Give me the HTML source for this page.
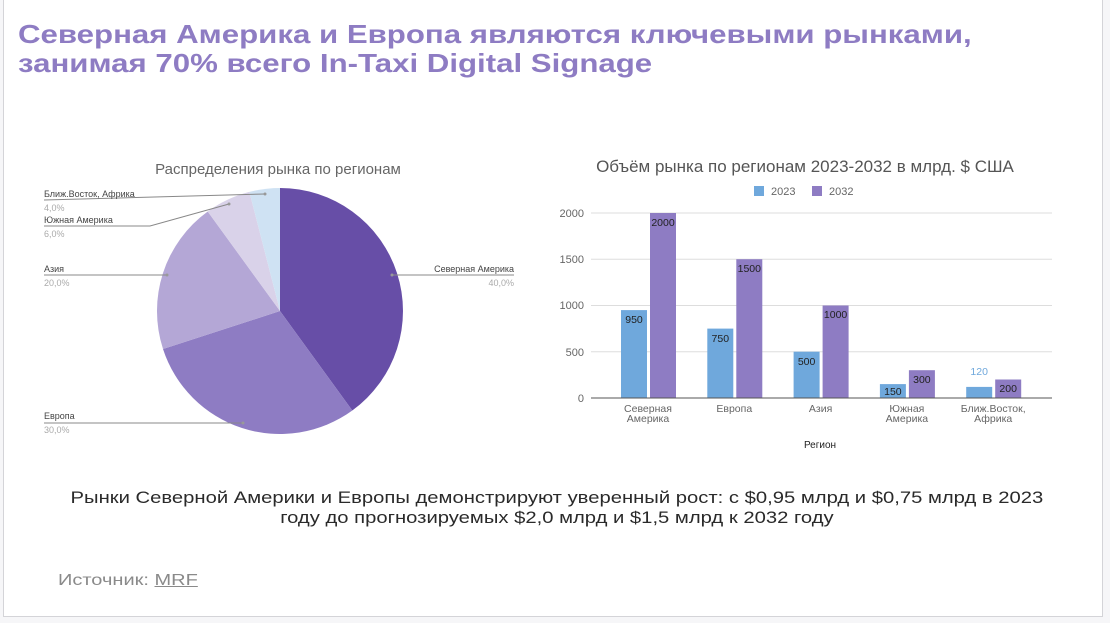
<!DOCTYPE html>
<html><head><meta charset="utf-8"><style>
html,body{margin:0;padding:0;background:#f6f6f8;}
body{width:1110px;height:623px;overflow:hidden;position:relative;font-family:"Liberation Sans","DejaVu Sans",sans-serif;}
.card{position:absolute;left:3px;top:0;width:1098px;height:616px;background:#fff;border:1px solid #d4d4d8;border-top:none;}
.t{position:absolute;left:18px;top:20px;font-size:26px;font-weight:bold;color:#8e7cc3;line-height:29px;transform:scaleX(1.2);transform-origin:0 0;white-space:nowrap;}
.d{position:absolute;left:0;width:1110px;top:488px;text-align:center;font-size:17px;line-height:20px;color:#2a2a2a;transform:scaleX(1.19);transform-origin:545px 0;}
.s{position:absolute;left:58px;top:572px;font-size:16px;color:#8a8a8a;transform:scaleX(1.25);transform-origin:0 0;}
.s u{color:#8a8a8a;}
</style></head><body>
<div class="card"></div>
<div class="t">Северная Америка и Европа являются ключевыми рынками,<br>занимая 70% всего In-Taxi Digital Signage</div>
<svg width="1110" height="623" style="position:absolute;left:0;top:0" font-family="Liberation Sans, DejaVu Sans, sans-serif">
<text x="278" y="174" font-size="15" fill="#666" text-anchor="middle">Распределения рынка по регионам</text>
<path d="M280,311 L280,188 A123,123 0 0 1 352.3,410.5 Z" fill="#674ea7"/>
<path d="M280,311 L352.3,410.5 A123,123 0 0 1 163,349 Z" fill="#8e7cc3"/>
<path d="M280,311 L163,349 A123,123 0 0 1 207.7,211.5 Z" fill="#b4a7d6"/>
<path d="M280,311 L207.7,211.5 A123,123 0 0 1 249.4,191.9 Z" fill="#d9d2e9"/>
<path d="M280,311 L249.4,191.9 A123,123 0 0 1 280,188 Z" fill="#cfe2f3"/>
<g stroke="#888" stroke-width="1" fill="none">
<polyline points="392,275 514,275"/><polyline points="44,275 167,275"/>
<polyline points="44,423 243,423"/><polyline points="44,200 265,194"/>
<polyline points="44,226 150,226 229,204"/></g>
<g fill="#999"><circle cx="392" cy="275" r="1.5"/><circle cx="167" cy="275" r="1.5"/><circle cx="243" cy="423" r="1.5"/><circle cx="265" cy="194" r="1.5"/><circle cx="229" cy="204" r="1.5"/></g>
<g font-size="9" fill="#444">
<text x="514" y="272" text-anchor="end">Северная Америка</text>
<text x="44" y="272">Азия</text><text x="44" y="419">Европа</text>
<text x="44" y="197">Ближ.Восток, Африка</text><text x="44" y="223">Южная Америка</text></g>
<g font-size="9" fill="#aaa">
<text x="514" y="286" text-anchor="end">40,0%</text><text x="44" y="286">20,0%</text>
<text x="44" y="433">30,0%</text><text x="44" y="211">4,0%</text><text x="44" y="237">6,0%</text></g>

<text x="805" y="172" font-size="17" fill="#555" text-anchor="middle">Объём рынка по регионам 2023-2032 в млрд. $ США</text>
<rect x="754" y="186" width="10" height="10" fill="#6fa8dc"/><text x="771" y="195" font-size="11" fill="#666">2023</text>
<rect x="812" y="186" width="10" height="10" fill="#8e7cc3"/><text x="829" y="195" font-size="11" fill="#666">2032</text>
<g stroke="#ddd"><line x1="591" y1="213" x2="1052" y2="213"/><line x1="591" y1="259.3" x2="1052" y2="259.3"/><line x1="591" y1="305.5" x2="1052" y2="305.5"/><line x1="591" y1="351.8" x2="1052" y2="351.8"/></g>
<g font-size="11" fill="#666" text-anchor="end"><text x="584" y="217">2000</text><text x="584" y="263">1500</text><text x="584" y="309">1000</text><text x="584" y="356">500</text><text x="584" y="402">0</text></g>
<g fill="#6fa8dc">
<rect x="621" y="310.1" width="26" height="87.9"/><rect x="707.3" y="328.6" width="26" height="69.4"/><rect x="793.6" y="351.7" width="26" height="46.3"/><rect x="879.9" y="384.1" width="26" height="13.9"/><rect x="966.2" y="386.9" width="26" height="11.1"/></g>
<g fill="#8e7cc3">
<rect x="650" y="213" width="26" height="185"/><rect x="736.3" y="259.2" width="26" height="138.8"/><rect x="822.6" y="305.5" width="26" height="92.5"/><rect x="908.9" y="370.2" width="26" height="27.8"/><rect x="995.2" y="379.5" width="26" height="18.5"/></g>
<line x1="591" y1="398" x2="1052" y2="398" stroke="#555"/>
<g font-size="10.5" fill="#222" text-anchor="middle">
<text x="634" y="323">950</text><text x="720.3" y="342">750</text><text x="806.6" y="365">500</text><text x="892.9" y="395">150</text>
<text x="663" y="226">2000</text><text x="749.3" y="272">1500</text><text x="835.6" y="318">1000</text><text x="921.9" y="383">300</text><text x="1008.2" y="392">200</text></g>
<text x="979.2" y="375" font-size="10.5" fill="#6fa8dc" text-anchor="middle">120</text>
<g font-size="10.5" fill="#666" text-anchor="middle">
<text x="648" y="412">Северная</text><text x="648" y="422">Америка</text>
<text x="734.3" y="412">Европа</text><text x="820.6" y="412">Азия</text>
<text x="906.9" y="412">Южная</text><text x="906.9" y="422">Америка</text>
<text x="993.2" y="412">Ближ.Восток,</text><text x="993.2" y="422">Африка</text></g>
<text x="820" y="448" font-size="10" fill="#222" text-anchor="middle">Регион</text>
</svg>
<div class="d">Рынки Северной Америки и Европы демонстрируют уверенный рост: с $0,95 млрд и $0,75 млрд в 2023<br>году до прогнозируемых $2,0 млрд и $1,5 млрд к 2032 году</div>
<div class="s">Источник: <u>MRF</u></div>
</body></html>
